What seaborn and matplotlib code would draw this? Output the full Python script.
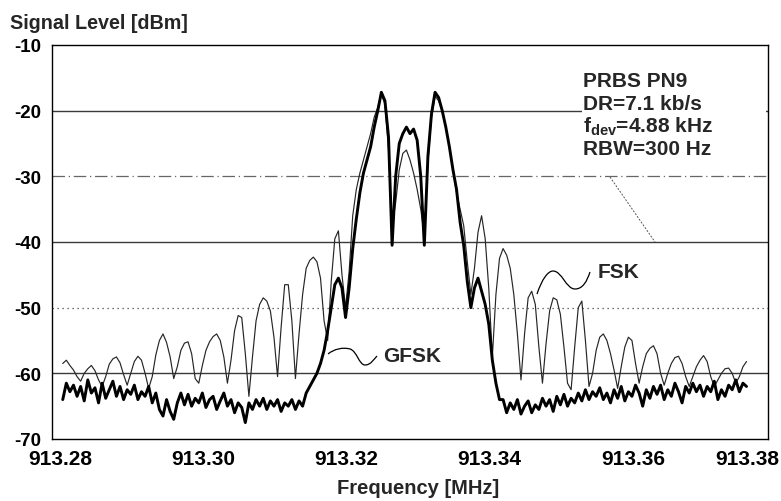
import numpy as np
import pandas as pd
import matplotlib
matplotlib.use("Agg")
import matplotlib.pyplot as plt
import matplotlib.transforms as mtransforms
import seaborn as sns
from matplotlib.path import Path
from matplotlib.patches import PathPatch, Rectangle

# ---------------- data ----------------
f_start_mhz = 913.2815
f_stop_mhz = 913.3770

fsk_dbm = [
    -58.5, -58.0, -58.8, -59.5, -60.5, -61.2, -60.0, -59.3, -58.8, -59.6,
    -61.0, -62.0, -60.5, -58.6, -57.8, -57.5, -58.4, -60.2, -61.8, -60.0,
    -58.2, -57.4, -58.0, -60.0, -62.3, -60.5, -57.2, -55.0, -54.0, -55.3,
    -57.5, -60.8, -59.0, -56.5, -55.4, -55.2, -57.0, -60.8, -61.5, -58.8,
    -56.5, -55.2, -54.4, -54.0, -55.0, -57.5, -61.5, -58.0, -53.5, -51.2,
    -51.5, -57.0, -63.5, -57.5, -52.0, -49.5, -48.5, -49.0, -50.5, -54.5,
    -60.5, -53.0, -46.5, -46.5, -52.0, -60.8, -54.0, -48.0, -44.0, -42.8,
    -42.3, -43.0, -45.5, -52.0, -55.0, -46.0, -39.5, -38.3, -45.0, -50.0,
    -44.5, -36.0, -32.0, -29.5, -27.5, -25.5, -23.5, -21.0, -19.5, -17.5,
    -19.0, -26.0, -37.5, -34.0, -29.0, -26.5, -26.0, -27.5, -29.5, -32.0,
    -35.0, -39.0, -28.0, -21.0, -17.8, -18.5, -20.0, -22.5, -25.5, -29.0,
    -32.5, -35.0, -37.5, -43.0, -48.0, -44.0, -38.5, -36.0, -39.5, -47.0,
    -57.5, -48.0, -42.5, -41.0, -42.0, -44.0, -48.0, -54.0, -61.0, -54.0,
    -48.5, -47.5, -49.5, -56.0, -61.5, -55.5, -50.5, -48.5, -48.8, -51.0,
    -56.0, -61.5, -62.5, -56.0, -50.0, -49.0, -55.0, -62.0, -60.0, -56.5,
    -54.5, -54.0, -55.0, -57.0, -59.5, -62.3, -59.0, -56.0, -54.5, -55.0,
    -58.5, -61.5, -59.0, -57.0, -56.2, -55.8, -57.0, -60.0, -61.8, -60.0,
    -58.5, -57.6, -57.4, -58.5, -60.5, -62.0, -60.5, -59.0, -58.0, -57.3,
    -58.2, -60.5, -62.0, -61.0, -60.0, -59.3, -59.2, -60.0, -61.5, -60.5,
    -59.0, -58.2,
]

gfsk_dbm = [
    -64.0, -61.5, -62.8, -61.8, -63.5, -62.0, -64.2, -61.0, -63.0, -62.2,
    -64.5, -61.5, -63.8, -62.5, -61.2, -63.5, -62.0, -64.0, -62.5, -63.2,
    -61.8, -64.0, -62.8, -63.5, -62.0, -64.5, -63.0, -65.5, -66.5, -64.0,
    -65.8, -67.0, -64.5, -63.0, -64.8, -63.2, -65.0, -63.8, -64.5, -63.0,
    -65.2, -64.0, -63.5, -65.5, -64.2, -63.0, -65.0, -64.0, -66.0, -64.5,
    -65.2, -67.5, -64.5, -65.5, -64.0, -65.0, -63.8, -65.5, -64.2, -65.0,
    -64.0, -65.8, -64.5, -65.0, -64.0, -65.5, -64.2, -65.0, -63.0, -62.0,
    -61.0, -60.0, -58.5, -56.5, -53.5, -50.0, -46.5, -45.5, -47.0, -51.5,
    -47.0, -41.0, -36.5, -32.5, -29.5, -27.5, -25.5, -22.5, -20.0, -17.2,
    -18.5, -24.0, -40.5, -30.0, -25.0, -23.5, -22.5, -23.5, -22.8, -24.5,
    -30.0, -40.5, -27.0, -20.5, -17.2, -18.0, -20.0, -22.5, -25.5, -29.0,
    -32.0, -37.0, -40.5, -46.0, -50.0, -47.0, -45.5, -47.5, -49.5, -52.5,
    -58.0, -61.5, -64.0, -64.0, -66.0, -64.5, -65.5, -64.0, -66.2, -65.0,
    -64.2, -66.0, -64.8, -65.5, -63.8, -65.0, -64.0, -65.8, -63.5, -64.8,
    -63.2, -65.0, -63.8, -64.5, -63.0, -64.2, -62.5, -64.0, -62.8, -63.5,
    -62.2, -64.0, -63.0, -64.5, -62.5, -63.8, -62.0, -64.2, -62.8, -63.5,
    -61.8, -63.0, -65.0, -62.5, -63.8, -62.0, -63.2, -61.8, -64.0, -62.5,
    -63.5, -61.5, -62.8, -64.5, -62.0, -63.0, -61.5, -62.8, -61.8, -63.5,
    -62.0, -62.8, -61.2, -64.0, -62.5, -63.5, -61.8, -62.5, -61.0, -62.8,
    -61.5, -62.0,
]

x_ticks = [913.28, 913.30, 913.32, 913.34, 913.36, 913.38]
y_ticks = [-70, -60, -50, -40, -30, -20, -10]
info_lines = ["PRBS PN9", "DR=7.1 kb/s", r"f$_{\mathrm{dev}}$=4.88 kHz", "RBW=300 Hz"]

# ---------------- style ----------------
sns.set_theme(style="white")
plt.rcParams["font.family"] = ["Liberation Sans", "DejaVu Sans"]
plt.rcParams["font.weight"] = "bold"
plt.rcParams["axes.unicode_minus"] = False
plt.rcParams["mathtext.fontset"] = "custom"
plt.rcParams["mathtext.rm"] = "Liberation Sans:bold"
plt.rcParams["mathtext.it"] = "Liberation Sans:bold"
plt.rcParams["mathtext.bf"] = "Liberation Sans:bold"

freq = np.linspace(f_start_mhz, f_stop_mhz, len(fsk_dbm))
df = pd.DataFrame({"freq": freq, "FSK": fsk_dbm, "GFSK": gfsk_dbm})

fig = plt.figure(figsize=(7.81, 5.02), dpi=100)
ax = fig.add_axes([52 / 781, 62 / 502, 716 / 781, 394 / 502])

# grid lines
for yv in (-20, -40, -60):
    ax.axhline(yv, color="#3a3a3a", lw=1.0, zorder=1)
ax.axhline(-30, color="#666666", lw=0.9, ls=(0, (10, 3, 1, 3)), zorder=1)
ax.axhline(-50, color="#444444", lw=0.9, ls=(0, (1, 3)), zorder=1)

sns.lineplot(data=df, x="freq", y="FSK", color="#262626", lw=0.85, ax=ax, zorder=3)
sns.lineplot(data=df, x="freq", y="GFSK", color="black", lw=2.1, ax=ax, zorder=4)

ax.set_xlim(913.28, 913.38)
ax.set_ylim(-70, -10)
ax.set_xticks(x_ticks)
ax.set_xticklabels([f"{v:.2f}" for v in x_ticks], fontsize=15, fontweight="bold")
ax.set_yticks(y_ticks)
ax.set_yticklabels([f"{v:d}" for v in y_ticks], fontsize=13.5, fontweight="bold")
ax.tick_params(axis="x", direction="in", length=4, width=0.8, pad=7, colors="black")
ax.tick_params(axis="y", length=0, pad=8, colors="black")
ax.set_xlabel("")
ax.set_ylabel("")
for s in ax.spines.values():
    s.set_visible(True)
    s.set_color("black")
    s.set_linewidth(1.0)

# x tick labels sit a little right of their ticks; last one kept inside the figure
xlabels = ax.get_xticklabels()
for lab in xlabels[:-1]:
    lab.set_transform(lab.get_transform() +
                      mtransforms.ScaledTranslation(8 / 100, 0, fig.dpi_scale_trans))
xlabels[-1].set_horizontalalignment("right")
xlabels[-1].set_transform(xlabels[-1].get_transform() +
                          mtransforms.ScaledTranslation(11 / 100, 0, fig.dpi_scale_trans))

# white block behind the info text (hides grid there)
ax.add_patch(Rectangle((0.74, 0.715), 0.257, 0.225, transform=ax.transAxes,
                       facecolor="white", edgecolor="none", zorder=2))
for k, line in enumerate(info_lines):
    ax.text(0.7416, 0.896 - k * 0.0577, line, transform=ax.transAxes,
            fontsize=15, fontweight="bold", ha="left", va="baseline", zorder=5)

# labels
ax.text(0.7626, 0.411, "FSK", transform=ax.transAxes, fontsize=15,
        fontweight="bold", ha="left", va="baseline", zorder=5)
ax.text(0.4623, 0.198, "GFSK", transform=ax.transAxes, fontsize=15,
        fontweight="bold", ha="left", va="baseline", zorder=5)


def px(x, y):
    return ((x - 52) / 716, (440 - y) / 394)


def wave(points):
    verts = [px(*p) for p in points]
    codes = [Path.MOVETO] + [Path.CURVE4] * (len(verts) - 1)
    return PathPatch(Path(verts, codes), transform=ax.transAxes, fill=False,
                     edgecolor="black", lw=0.9, zorder=5)


ax.add_patch(wave([(537, 295), (542, 280), (548, 272), (553, 272),
                   (562, 272), (566, 290), (575, 290),
                   (583, 290), (587, 282), (590, 273)]))
ax.add_patch(wave([(328, 355), (334, 350), (343, 348), (350, 350),
                   (357, 352), (359, 366), (365, 366),
                   (371, 366), (374, 360), (377, 357)]))
# thin leader line from the -30 grid line
(x0, y0), (x1, y1) = px(610, 178), px(655, 243)
ax.plot([x0, x1], [y0, y1], transform=ax.transAxes, color="#555555", lw=0.7,
        ls=(0, (2, 1.5)), zorder=2)

fig.text(10 / 781, 1 - 29 / 502, "Signal Level [dBm]", fontsize=14.2,
         fontweight="bold", ha="left", va="baseline")
fig.text(418 / 781, 1 - 494 / 502, "Frequency [MHz]", fontsize=14.5,
         fontweight="bold", ha="center", va="baseline")

fig.savefig("out.png", dpi=100, facecolor="white")
